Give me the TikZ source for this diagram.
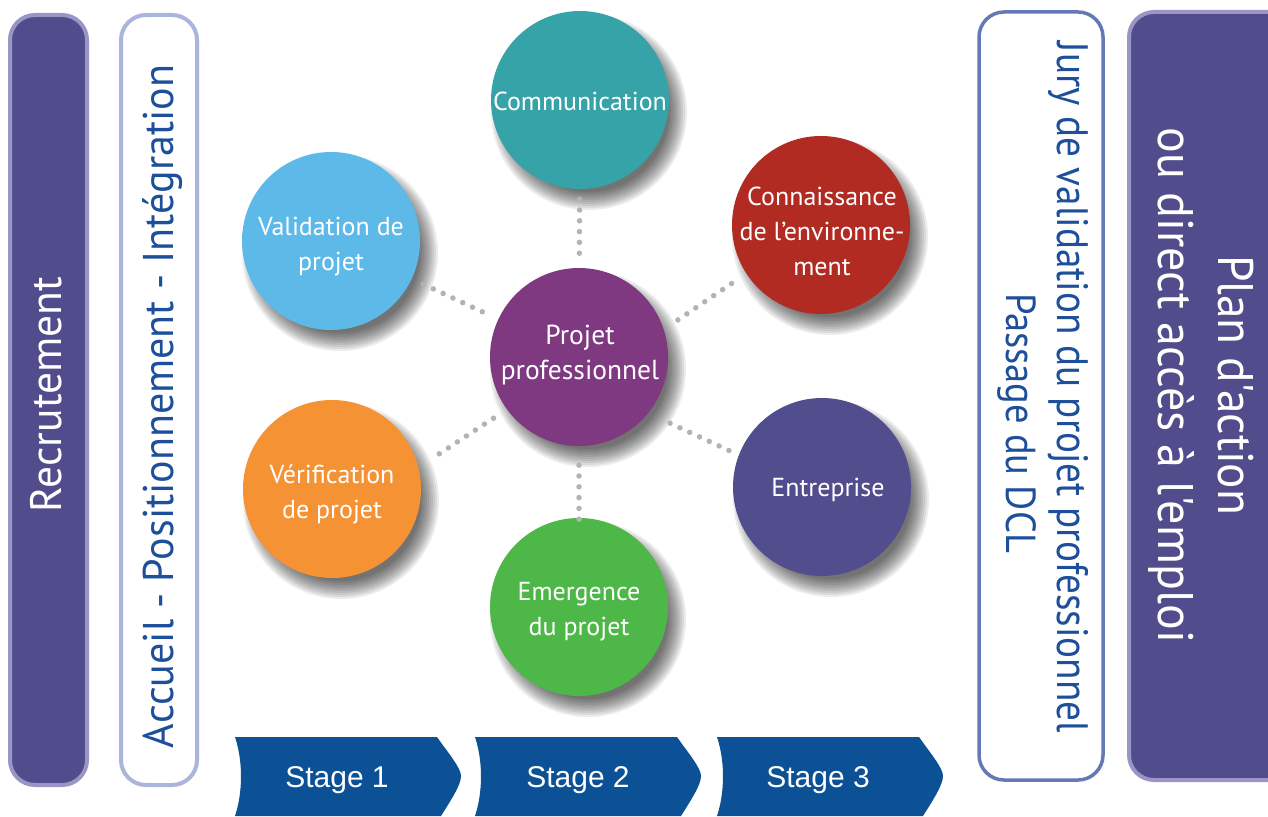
\documentclass[tikz,border=0pt]{standalone}
\usepackage{fontspec}
\usepackage{graphicx}
\newfontfamily\pt{PT Sans}
\newfontfamily\arialf{Liberation Sans}
\definecolor{cComm}{HTML}{36A3A8}
\definecolor{cConn}{HTML}{B22B22}
\definecolor{cEntr}{HTML}{524E8E}
\definecolor{cEmer}{HTML}{4DB848}
\definecolor{cVerif}{HTML}{F49234}
\definecolor{cValid}{HTML}{5DB9E8}
\definecolor{cProj}{HTML}{7F3980}
\definecolor{boxpurple}{HTML}{514D8C}
\definecolor{boxpurpleedge}{HTML}{9A95C4}
\definecolor{boxlightedge}{HTML}{ABB4DA}
\definecolor{boxblueedge}{HTML}{6479B5}
\definecolor{txtblue}{HTML}{1D4F9B}
\definecolor{dotgray}{HTML}{B3B3B7}
\definecolor{stageblue}{HTML}{0C5096}
\tikzset{
  bub/.style={circle, minimum size=178pt, inner sep=0pt},
  bubtxt/.style={text=white, align=center, inner sep=0pt, font=\pt\fontsize{26}{35}\selectfont},
  dotline/.style={draw=dotgray, line width=5.5pt, line cap=round, dash pattern=on 0pt off 10.8pt},
  sidebox/.style={rounded corners=25pt, line width=4pt},
  vtext/.style={inner sep=0pt, anchor=base},
  stagetxt/.style={text=white, inner sep=0pt, anchor=base, font=\arialf\fontsize{30}{30}\selectfont}
}
\newcommand\softshadow[2]{%
  \foreach \k in {0,...,9}{\fill[black,opacity=0.075] ({#1+9},{#2+12}) circle ({80+2*\k});}}
\newcommand\stagechev[1]{%
  \fill[stageblue] (#1,737) -- ({#1+202},737) .. controls ({#1+214},754) and ({#1+226},768) .. ({#1+226},776)
    .. controls ({#1+226},785) and ({#1+216},800) .. ({#1+206},816) -- (#1,816)
    .. controls ({#1+8},792) and ({#1+8},761) .. (#1,737) -- cycle;}
\begin{document}
\begin{tikzpicture}[x=1pt,y=-1pt]
\useasboundingbox (0,0) rectangle (1268,816);
\fill[white] (0,0) rectangle (1268,816);

% side boxes
\draw[sidebox, fill=boxpurple, draw=boxpurpleedge] (10,15) rectangle (87,785);
\draw[sidebox, fill=white, draw=boxlightedge] (121,15) rectangle (197,785);
\draw[sidebox, fill=white, draw=boxblueedge, line width=3.5pt] (979,12) rectangle (1103,780);
\draw[sidebox, fill=boxpurple, draw=boxpurpleedge] (1129,12) rectangle (1300,780);

\node[vtext, rotate=90, text=white] (rec) at (61,394.5)
  {\resizebox{235pt}{\height}{\pt\fontsize{44}{44}\selectfont Recrutement}};
\node[vtext, rotate=90, text=txtblue] (acc) at (173,406.5)
  {\resizebox{683pt}{\height}{\pt\fontsize{43}{43}\selectfont Accueil - Positionnement - Intégration}};
\node[vtext, rotate=-90, text=txtblue] (jury) at (1057,387.5)
  {\resizebox{691pt}{\height}{\pt\fontsize{44}{44}\selectfont Jury de validation du projet professionnel}};
\node[vtext, rotate=-90, text=txtblue] (dcl) at (1006,423)
  {\resizebox{260pt}{\height}{\pt\fontsize{42}{42}\selectfont Passage du DCL}};
\node[vtext, rotate=-90, text=white] (plan) at (1218,385)
  {\resizebox{260pt}{\height}{\pt\fontsize{50}{50}\selectfont Plan d'action}};
\node[vtext, rotate=-90, text=white] (acces) at (1158,385.5)
  {\resizebox{515pt}{\height}{\pt\fontsize{50}{50}\selectfont ou direct accès à l'emploi}};

% shadows
\softshadow{580}{100}
\softshadow{821}{225}
\softshadow{822}{487}
\softshadow{579}{607}
\softshadow{332}{489}
\softshadow{331}{241}
\softshadow{579}{357}

% circles
\node[bub, fill=cComm] (comm) at (580,100) {};
\node[bub, fill=cConn] (conn) at (821,225) {};
\node[bub, fill=cEntr] (entr) at (822,487) {};
\node[bub, fill=cEmer] (emer) at (579,607) {};
\node[bub, fill=cVerif] (verif) at (332,489) {};
\node[bub, fill=cValid] (valid) at (331,241) {};
\node[bub, fill=cProj] (proj) at (579,357) {};

% circle labels
\node[bubtxt] (commt) at (580,101) {Communication};
\node[bubtxt] (connt) at (822,231) {Connaissance\\de l’environne-\\ment};
\node[bubtxt] (entrt) at (828,490) {Entreprise};
\node[bubtxt] (emert) at (579,612) {Emergence\\du projet};
\node[bubtxt] (verift) at (332,494) {Vérification\\de projet};
\node[bubtxt] (validt) at (331,247) {Validation de\\projet};
\node[bubtxt, font=\pt\fontsize{27.5}{35}\selectfont] (projt) at (580,355) {Projet\\professionnel};

% dotted connectors
\draw[dotline, shorten <=10pt, shorten >=11pt] (comm) -- (proj);
\draw[dotline, shorten <=13pt, shorten >=11pt] (valid) -- (proj);
\draw[dotline, shorten <=17pt, shorten >=11pt] (proj.18) -- (conn.-147);
\draw[dotline, shorten <=24pt, shorten >=6pt] (proj.-39) -- (entr.159);
\draw[dotline, shorten <=16pt, shorten >=17pt] (proj.216) -- (verif.14);
\draw[dotline, shorten <=19pt, shorten >=-6pt] (proj) -- (emer);

% stages
\stagechev{235}
\stagechev{475}
\stagechev{717}
\node[stagetxt] (s1) at (337,787) {Stage 1};
\node[stagetxt] (s2) at (578,787) {Stage 2};
\node[stagetxt] (s3) at (818,787) {Stage 3};
\end{tikzpicture}
\end{document}
